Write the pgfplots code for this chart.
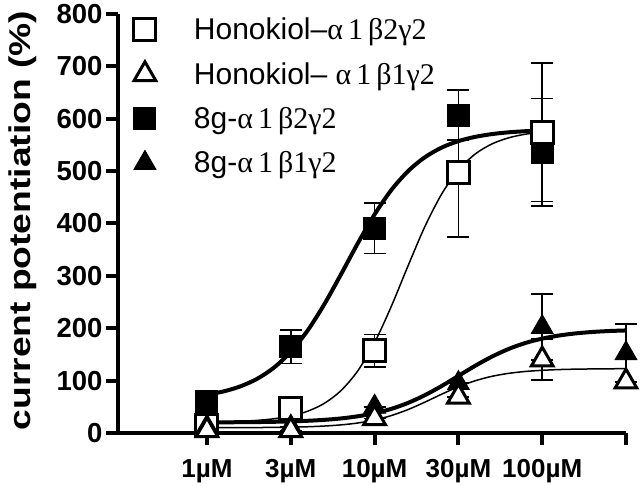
\documentclass[border=0pt]{standalone}
\usepackage{pgfplots}
\pgfplotsset{compat=1.18}
\usepackage{fontspec}
\setmainfont{Liberation Sans}
\newfontfamily\grk{Liberation Serif}

\pgfplotstableread{
x y e
0 61 0
1 165 32
2 391 48
3 607 48
4 536 103
}\sqfill
\pgfplotstableread{
x y e
0 15 0
1 46 0
2 157 31
3 498 124
4 574 132
}\sqopen
\pgfplotstableread{
x y e
0 12 0
1 12 0
2 50 0
3 95 0
4 202 63
5 152 56
}\trifill
\pgfplotstableread{
x y e
0 5 0
1 5 0
2 28 0
3 69 0
4 140 39
5 98 0
}\triopen

\begin{document}
\begin{tikzpicture}
\useasboundingbox (-118pt,-53pt) rectangle (522pt,433pt);
\begin{axis}[
  scale only axis, width=508pt, height=419pt,
  xmin=-1.062, xmax=5, ymin=0, ymax=800,
  axis lines*=left,
  axis line style={line width=4.5pt, black},
  clip=false,
  xtick={0,...,5},
  xticklabels={1µM,3µM,10µM,30µM,100µM,{}},
  ytick={0,100,...,800},
  tick align=outside,
  major tick length=12pt,
  major tick style={line width=4pt, black},
  /pgf/number format/assume math mode=true,
  yticklabel style={font=\fontsize{27.5}{29}\selectfont\bfseries},
  xticklabel style={font=\fontsize{26}{28}\selectfont\bfseries, yshift=-11pt},
  ylabel={current potentiation (\%)},
  ylabel style={at={(axis description cs:-0.188,0.507)}, anchor=center,
    font=\fontsize{30}{31}\selectfont\bfseries, xscale=1.24},
  legend style={at={(axis description cs:0.031,0.992)}, anchor=north west,
    draw=none, fill=none, inner sep=0pt, row sep=21pt, column sep=38pt,
    font=\fontsize{30}{32}\selectfont, nodes={inner sep=0pt}},
  legend cell align=left,
  legend image code/.code={\draw[#1] plot coordinates {(0pt,0pt)};},
  error bars/error bar style={line width=1.5pt, black},
  error bars/error mark options={rotate=90, mark size=11pt, line width=1.5pt, black},
]
% legend images
\addlegendimage{mark=square*, mark size=11pt, mark options={fill=white, draw=black, line width=3pt}}
\addlegendentry{Honokiol–{\grk α\,1\,β2γ2}}
\addlegendimage{mark=triangle*, mark size=12.5pt, mark options={fill=white, draw=black, line width=3pt}}
\addlegendentry{Honokiol– {\grk α\,1\,β1γ2}}
\addlegendimage{mark=square*, mark size=11pt, mark options={fill=black, draw=black, line width=1pt}}
\addlegendentry{8g-{\grk α\,1\,β2γ2}}
\addlegendimage{mark=triangle*, mark size=12.5pt, mark options={fill=black, draw=black, line width=1pt}}
\addlegendentry{8g-{\grk α\,1\,β1γ2}}

% data
\addplot[forget plot, only marks, mark=square*, mark size=11pt,
  mark options={fill=black, draw=black, line width=1pt},
  error bars/.cd, y dir=both, y explicit]
  table[x=x, y=y, y error=e] {\sqfill};
\addplot[forget plot, only marks, mark=square*, mark size=11pt,
  mark options={fill=white, draw=black, line width=3pt},
  error bars/.cd, y dir=both, y explicit]
  table[x=x, y=y, y error=e] {\sqopen};
\addplot[forget plot, only marks, mark=triangle*, mark size=12.5pt,
  mark options={fill=black, draw=black, line width=1pt},
  error bars/.cd, y dir=both, y explicit]
  table[x=x, y=y, y error=e] {\trifill};
\addplot[forget plot, only marks, mark=triangle*, mark size=12.5pt,
  mark options={fill=white, draw=black, line width=3pt},
  error bars/.cd, y dir=both, y explicit]
  table[x=x, y=y, y error=e] {\triopen};

% fitted curves
% 8g a1b2g2 (thick)
\addplot[forget plot, no marks, smooth, line width=4pt, black] coordinates {
(0,73.1) (0.2,79.5) (0.4,89.1) (0.6,103.6) (0.8,124.9) (1.0,155.1) (1.2,195.5)
(1.4,245.8) (1.6,303.2) (1.8,362.3) (2.0,417.4) (2.2,464.0) (2.4,500.1)
(2.6,526.5) (2.8,544.9) (3.0,557.3) (3.2,565.4) (3.4,570.7) (3.6,574.1)
(3.8,576.2) (4.0,577.6)};
% Honokiol a1b2g2 (thin)
\addplot[forget plot, no marks, smooth, line width=1.5pt, black] coordinates {
(0,20.8) (0.2,21.4) (0.4,22.4) (0.6,24.1) (0.8,27.2) (1.0,32.5) (1.2,41.5)
(1.4,56.6) (1.6,81.1) (1.8,118.8) (2.0,172.8) (2.2,242.0) (2.4,319.5)
(2.6,394.2) (2.8,456.2) (3.0,501.9) (3.2,532.6) (3.4,551.9) (3.6,563.6)
(3.8,570.5) (4.0,574.5)};
% 8g a1b1g2 (thick)
\addplot[forget plot, no marks, smooth, line width=4pt, black] coordinates {
(0,20.2) (0.2,20.4) (0.4,20.6) (0.6,20.9) (0.8,21.4) (1.0,22.2) (1.2,23.3)
(1.4,25.1) (1.6,27.8) (1.8,31.9) (2.0,37.8) (2.2,46.1) (2.4,57.5) (2.6,72.2)
(2.8,89.7) (3.0,109.0) (3.2,128.3) (3.4,145.8) (3.6,160.5) (3.8,171.9)
(4.0,180.2) (4.2,186.1) (4.4,190.2) (4.6,192.9) (4.8,194.7) (5.0,195.8)};
% Honokiol a1b1g2 (thin)
\addplot[forget plot, no marks, smooth, line width=1.5pt, black] coordinates {
(0,10.1) (0.2,10.1) (0.4,10.2) (0.6,10.4) (0.8,10.7) (1.0,11.1) (1.2,11.9)
(1.4,13.3) (1.6,15.5) (1.8,19.1) (2.0,24.8) (2.2,33.3) (2.4,44.8) (2.6,58.9)
(2.8,74.1) (3.0,88.2) (3.2,99.7) (3.4,108.2) (3.6,113.9) (3.8,117.5)
(4.0,119.7) (4.2,121.1) (4.4,121.9) (4.6,122.3) (4.8,122.6) (5.0,122.8)};
\end{axis}
\end{tikzpicture}
\end{document}
